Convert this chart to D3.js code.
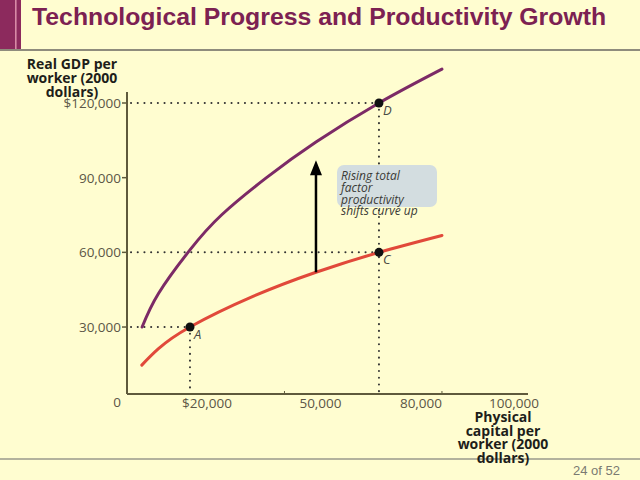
<!DOCTYPE html>
<html>
<head>
<meta charset="utf-8">
<script src="https://cdn.jsdelivr.net/npm/d3@7"></script>
<style>
    html, body { margin: 0; padding: 0; background: #fffdd0; }
    svg { display: block; }
</style>
</head>
<body>
<svg id="slide" width="640" height="480"></svg>
<script>
/*global d3*/

// curve data (capital per worker, GDP per worker)
var capitalLow = [4700, 10000, 20000, 40000, 60000, 80000, 100000];
var gdpLow = [14700, 21300, 30000, 42300, 52000, 60000, 66800];
var capitalHigh = [4800, 10000, 20000, 30000, 44300, 60000, 80000, 100000];
var gdpHigh = [30000, 43500, 61000, 75000, 90000, 104300, 120000, 133600];

var pointNames = ['A', 'C', 'D'];
var pointCapital = [20000, 80000, 80000];
var pointGdp = [30000, 60000, 120000];

var yTicks = [0, 30000, 60000, 90000, 120000];
var yTickLabels = ['0', '30,000', '60,000', '90,000', '$120,000'];
var xTicks = [20000, 50000, 80000, 100000];
var xTickLabels = ['$20,000', '50,000', '80,000', '100,000'];

var arrowCapital = 60000;
var arrowFrom = 52000;
var arrowTo = 97000;

var noteLines = ['Rising total', 'factor', 'productivity', 'shifts curve up'];

(function (d3) {
    'use strict';

    var svg = d3.select('#slide'),
        x = d3.scaleLinear().domain([0, 127000]).range([127, 527]),
        y = d3.scaleLinear().domain([0, 120000]).range([401.7, 103]),
        axisY = 394,
        axisColor = '#5f5a3c',
        tickFont = '"Open Sans", "DejaVu Sans", sans-serif',
        // the printed x labels sit to the right of their ticks
        xLabelShift = [17, 36, 42, 72],
        line = d3.line()
            .x(function (d) { return x(d[0]); })
            .y(function (d) { return y(d[1]); })
            .curve(d3.curveNatural),
        g;

    // slide frame
    svg.append('rect').attr('x', 0).attr('y', 0).attr('width', 21).attr('height', 50)
        .attr('fill', '#8c2a5d');
    svg.append('rect').attr('x', 15).attr('y', 0).attr('width', 1.6).attr('height', 50)
        .attr('fill', '#d88aa6');
    svg.append('line').attr('x1', 0).attr('x2', 640).attr('y1', 50).attr('y2', 50)
        .attr('stroke', '#8f8c7c').attr('stroke-width', 2);
    svg.append('line').attr('x1', 0).attr('x2', 640).attr('y1', 459).attr('y2', 459)
        .attr('stroke', '#9a988c').attr('stroke-width', 1.5);

    svg.append('text')
        .attr('x', 32).attr('y', 25)
        .attr('font-family', '"Liberation Sans", Arial, sans-serif')
        .attr('font-weight', 'bold')
        .attr('font-size', 24.8)
        .attr('fill', '#7c2152')
        .text('Technological Progress and Productivity Growth');

    svg.append('text')
        .attr('x', 620).attr('y', 475)
        .attr('text-anchor', 'end')
        .attr('font-family', '"Liberation Sans", Arial, sans-serif')
        .attr('font-size', 13)
        .attr('fill', '#7a7a72')
        .text('24 of 52');

    g = svg.append('g');

    // dotted guide lines
    function dotted(x1, y1, x2, y2) {
        g.append('line')
            .attr('x1', x1).attr('y1', y1).attr('x2', x2).attr('y2', y2)
            .attr('stroke', '#333')
            .attr('stroke-width', 2)
            .attr('stroke-linecap', 'round')
            .attr('stroke-dasharray', '0.1,6.6');
    }
    dotted(x(0) + 4, y(pointGdp[2]), x(pointCapital[2]), y(pointGdp[2]));
    dotted(x(0) + 4, y(pointGdp[1]), x(pointCapital[1]), y(pointGdp[1]));
    dotted(x(0) + 4, y(pointGdp[0]), x(pointCapital[0]), y(pointGdp[0]));
    dotted(x(pointCapital[0]), y(pointGdp[0]), x(pointCapital[0]), axisY - 2);
    dotted(x(pointCapital[2]), y(pointGdp[2]), x(pointCapital[2]), axisY - 2);

    // axes
    g.append('line')
        .attr('x1', x(0)).attr('x2', x(0)).attr('y1', 92).attr('y2', axisY)
        .attr('stroke', axisColor).attr('stroke-width', 2);
    g.append('line')
        .attr('x1', x(0)).attr('x2', 528).attr('y1', axisY).attr('y2', axisY)
        .attr('stroke', axisColor).attr('stroke-width', 2);

    yTicks.forEach(function (v, i) {
        if (v > 0) {
            g.append('line')
                .attr('x1', x(0) - 5).attr('x2', x(0))
                .attr('y1', y(v)).attr('y2', y(v))
                .attr('stroke', axisColor).attr('stroke-width', 1.5);
        }
        g.append('text')
            .attr('x', x(0) - 6)
            .attr('y', y(v))
            .attr('dy', '0.36em')
            .attr('text-anchor', 'end')
            .attr('font-family', tickFont)
            .attr('font-size', 13.5)
            .attr('fill', '#5b5646')
            .text(yTickLabels[i]);
    });

    [50000, 100000].forEach(function (v) {
        g.append('line')
            .attr('x1', x(v)).attr('x2', x(v))
            .attr('y1', axisY - 3).attr('y2', axisY)
            .attr('stroke', axisColor).attr('stroke-width', 1);
    });

    xTicks.forEach(function (v, i) {
        g.append('text')
            .attr('x', x(v) + xLabelShift[i])
            .attr('y', axisY + 9)
            .attr('dy', '0.36em')
            .attr('text-anchor', 'middle')
            .attr('font-family', tickFont)
            .attr('font-size', 13.5)
            .attr('fill', '#5b5646')
            .text(xTickLabels[i]);
    });

    // axis titles
    function block(lines, cx, top, step) {
        var t = g.append('text')
            .attr('text-anchor', 'middle')
            .attr('font-family', tickFont)
            .attr('font-weight', 'bold')
            .attr('font-size', 14)
            .attr('fill', '#1e1e1a');
        lines.forEach(function (s, i) {
            t.append('tspan').attr('x', cx).attr('y', top + i * step).text(s);
        });
    }
    block(['Real GDP per', 'worker (2000', 'dollars)'], 72, 69, 14);
    block(['Physical', 'capital per', 'worker (2000', 'dollars)'], 503, 422, 13.6);

    // productivity curves
    g.append('path')
        .datum(d3.zip(capitalLow, gdpLow))
        .attr('d', line)
        .attr('fill', 'none')
        .attr('stroke', '#e1493a')
        .attr('stroke-width', 3)
        .attr('stroke-linecap', 'round');
    g.append('path')
        .datum(d3.zip(capitalHigh, gdpHigh))
        .attr('d', line)
        .attr('fill', 'none')
        .attr('stroke', '#7c2a66')
        .attr('stroke-width', 3)
        .attr('stroke-linecap', 'round');

    // arrow showing the shift
    g.append('line')
        .attr('x1', x(arrowCapital)).attr('x2', x(arrowCapital))
        .attr('y1', y(arrowFrom)).attr('y2', y(arrowTo) + 12)
        .attr('stroke', '#000').attr('stroke-width', 2.5);
    g.append('path')
        .attr('d', 'M' + x(arrowCapital) + ',' + y(arrowTo) +
            'l6,15h-12z')
        .attr('fill', '#000');

    // callout
    g.append('rect')
        .attr('x', 337).attr('y', 165).attr('width', 100).attr('height', 42)
        .attr('rx', 7)
        .attr('fill', '#d3dde0');
    g.append('text')
        .attr('font-family', tickFont)
        .attr('font-style', 'italic')
        .attr('font-size', 12)
        .attr('fill', '#3a3a36')
        .selectAll('tspan')
        .data(noteLines)
        .enter()
        .append('tspan')
        .attr('x', 341)
        .attr('y', function (d, i) { return 180 + i * 11.8; })
        .text(function (d) { return d; });

    // labelled points
    pointNames.forEach(function (name, i) {
        g.append('circle')
            .attr('cx', x(pointCapital[i]))
            .attr('cy', y(pointGdp[i]))
            .attr('r', 4.5)
            .attr('fill', '#111');
        g.append('text')
            .attr('x', x(pointCapital[i]) + 4)
            .attr('y', y(pointGdp[i]) + 12)
            .attr('font-family', tickFont)
            .attr('font-style', 'italic')
            .attr('font-size', 13)
            .attr('fill', '#4a4a44')
            .text(name);
    });

}(window.d3));
</script>
</body>
</html>
